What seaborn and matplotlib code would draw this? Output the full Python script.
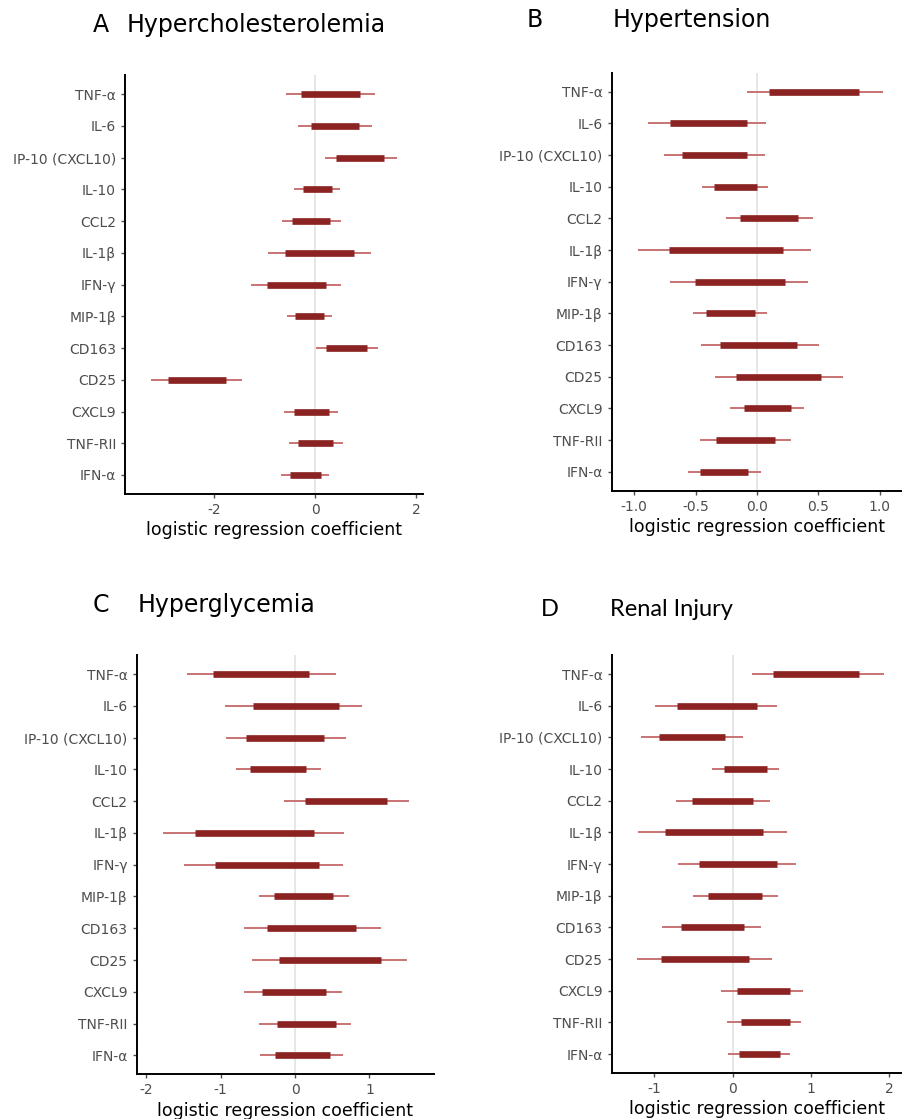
import pandas as pd
import seaborn as sns
import matplotlib.pyplot as plt

markers = ["TNF-α", "IL-6", "IP-10 (CXCL10)", "IL-10", "CCL2", "IL-1β", "IFN-γ",
           "MIP-1β", "CD163", "CD25", "CXCL9", "TNF-RII", "IFN-α"]

# (outer low, outer high, inner low, inner high) per marker
hyperchol_outer_lo = [-0.58, -0.34, 0.20, -0.42, -0.65, -0.94, -1.28, -0.55, 0.01, -3.25, -0.62, -0.51, -0.68]
hyperchol_outer_hi = [1.18, 1.12, 1.62, 0.50, 0.51, 1.10, 0.51, 0.34, 1.25, -1.46, 0.46, 0.56, 0.27]
hyperchol_inner_lo = [-0.29, -0.09, 0.41, -0.25, -0.46, -0.59, -0.95, -0.40, 0.21, -2.91, -0.42, -0.34, -0.50]
hyperchol_inner_hi = [0.88, 0.87, 1.37, 0.34, 0.30, 0.77, 0.22, 0.18, 1.02, -1.76, 0.27, 0.36, 0.12]

hypert_outer_lo = [-0.08, -0.89, -0.76, -0.45, -0.255, -0.97, -0.705, -0.52, -0.455, -0.34, -0.22, -0.466, -0.564]
hypert_outer_hi = [1.03, 0.076, 0.065, 0.09, 0.455, 0.44, 0.417, 0.079, 0.504, 0.699, 0.38, 0.274, 0.03]
hypert_inner_lo = [0.095, -0.71, -0.61, -0.35, -0.14, -0.715, -0.504, -0.415, -0.298, -0.168, -0.103, -0.33, -0.46]
hypert_inner_hi = [0.83, -0.08, -0.084, 0.003, 0.333, 0.21, 0.228, -0.019, 0.328, 0.518, 0.279, 0.149, -0.07]

hyperglyc_outer_lo = [-1.455, -0.94, -0.934, -0.80, -0.153, -1.78, -1.50, -0.485, -0.683, -0.579, -0.687, -0.48, -0.467]
hyperglyc_outer_hi = [0.557, 0.907, 0.69, 0.346, 1.53, 0.656, 0.647, 0.727, 1.154, 1.509, 0.629, 0.75, 0.651]
hyperglyc_inner_lo = [-1.105, -0.561, -0.66, -0.60, 0.13, -1.347, -1.082, -0.287, -0.382, -0.211, -0.44, -0.242, -0.265]
hyperglyc_inner_hi = [0.184, 0.597, 0.395, 0.148, 1.235, 0.256, 0.328, 0.507, 0.822, 1.15, 0.422, 0.552, 0.467]

renal_outer_lo = [0.243, -0.993, -1.172, -0.264, -0.729, -1.214, -0.699, -0.503, -0.908, -1.219, -0.141, -0.068, -0.055]
renal_outer_hi = [1.934, 0.571, 0.128, 0.597, 0.473, 0.699, 0.818, 0.579, 0.358, 0.507, 0.903, 0.882, 0.737]
renal_inner_lo = [0.516, -0.711, -0.942, -0.115, -0.52, -0.869, -0.426, -0.32, -0.66, -0.92, 0.051, 0.102, 0.081]
renal_inner_hi = [1.619, 0.311, -0.102, 0.447, 0.264, 0.388, 0.567, 0.379, 0.153, 0.205, 0.733, 0.733, 0.601]

panels = [
    ("Hypercholesterolemia", hyperchol_outer_lo, hyperchol_outer_hi, hyperchol_inner_lo, hyperchol_inner_hi),
    ("Hypertension", hypert_outer_lo, hypert_outer_hi, hypert_inner_lo, hypert_inner_hi),
    ("Hyperglycemia", hyperglyc_outer_lo, hyperglyc_outer_hi, hyperglyc_inner_lo, hyperglyc_inner_hi),
    ("Renal Injury", renal_outer_lo, renal_outer_hi, renal_inner_lo, renal_inner_hi),
]

# axes boxes in figure fractions and x limits
boxes = [[0.1386, 0.5585, 0.330, 0.3744],
         [0.678, 0.5615, 0.3218, 0.3735],
         [0.1516, 0.0399, 0.3296, 0.3747],
         [0.678, 0.0411, 0.3218, 0.3735]]
xlims = [(-3.77, 2.13), (-1.184, 1.18), (-2.13, 1.87), (-1.547, 2.165)]
xticks = [[-2, 0, 2], [-1.0, -0.5, 0.0, 0.5, 1.0], [-2, -1, 0, 1], [-1, 0, 1, 2]]
xticklabels = [["-2", "0", "2"], ["-1.0", "-0.5", "0.0", "0.5", "1.0"],
               ["-2", "-1", "0", "1"], ["-1", "0", "1", "2"]]

sns.set_theme(style="ticks")
plt.rcParams["font.family"] = ["DejaVu Sans"]

fig = plt.figure(figsize=(9.02, 11.19), dpi=100)

dark = "#8B2323"
light = "#C97373"
grey = "#4D4D4D"

for i, (name, olo, ohi, ilo, ihi) in enumerate(panels):
    ax = fig.add_axes(boxes[i])
    pos = list(range(len(markers)))
    outer = pd.DataFrame({"marker": markers * 2, "pos": pos * 2, "x": olo + ohi})
    inner = pd.DataFrame({"marker": markers * 2, "pos": pos * 2, "x": ilo + ihi})

    ax.axvline(0, color="#E3E3E3", lw=1.2, zorder=0)
    sns.lineplot(data=outer, x="x", y="pos", units="marker", estimator=None,
                 color=light, lw=1.4, ax=ax, sort=True, solid_capstyle="butt")
    sns.lineplot(data=inner, x="x", y="pos", units="marker", estimator=None,
                 color=dark, lw=4.8, ax=ax, sort=True, solid_capstyle="butt")

    ax.set_ylim(len(markers) - 0.4, -0.6)
    ax.set_yticks(pos)
    ax.set_yticklabels(markers)
    ax.set_xlim(*xlims[i])
    ax.set_xticks(xticks[i])
    ax.set_xticklabels(xticklabels[i])
    ax.set_ylabel("")
    ax.set_xlabel("logistic regression coefficient", fontsize=12.5, color="black", labelpad=3)
    ax.tick_params(axis="both", labelsize=10, colors=grey, length=3, width=1)
    for s in ["left", "bottom"]:
        ax.spines[s].set_linewidth(1.4)
        ax.spines[s].set_color("black")
    sns.despine(ax=ax)

# panel titles
fig.text(93 / 902, 1 - 32 / 1119, "A", fontsize=17, color="black")
fig.text(127 / 902, 1 - 32 / 1119, "Hypercholesterolemia", fontsize=17, color="black")
fig.text(527 / 902, 1 - 27 / 1119, "B", fontsize=17, color="black")
fig.text(613 / 902, 1 - 27 / 1119, "Hypertension", fontsize=17, color="black")
fig.text(93 / 902, 1 - 612 / 1119, "C", fontsize=17, color="black")
fig.text(138 / 902, 1 - 612 / 1119, "Hyperglycemia", fontsize=17, color="black")
fig.text(541 / 902, 1 - 616 / 1119, "D", fontsize=17, family="Lato", color="black")
fig.text(610 / 902, 1 - 616 / 1119, "Renal Injury", fontsize=17, family="Lato", color="black")

fig.savefig("out.png", dpi=100, facecolor="white")
